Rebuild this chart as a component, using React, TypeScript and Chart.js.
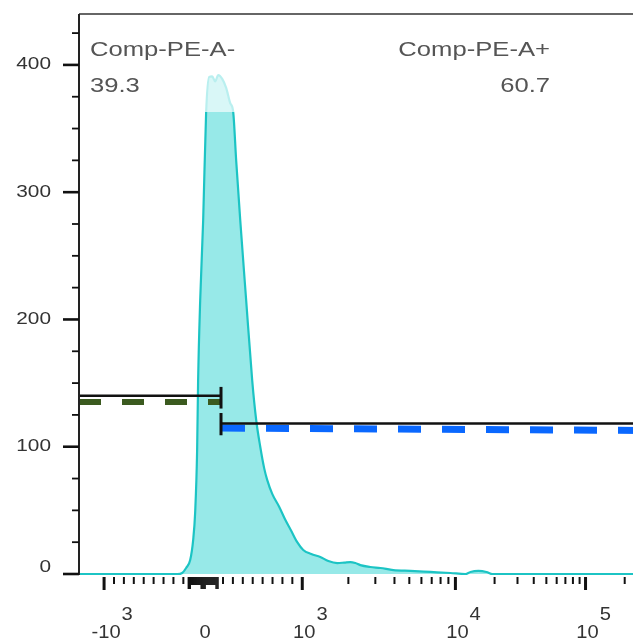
import React, { useEffect, useRef } from 'react';
import { Chart, registerables } from 'chart.js';

Chart.register(...registerables);

// ---- data (fluorescence values on the biexponential Comp-PE-A axis) ----
const histValues = [
  -1253, -260, -212, -172, -131, -101, -81, -61, -51, -30, 0, 30, 61, 91, 121, 152, 192, 232, 273, 303,
  333, 374, 434, 495, 535, 576, 616, 646, 697, 768, 830, 884, 949, 1015, 1145, 1311, 1479, 1693, 1882,
  2060, 2221, 2394, 2782, 3235, 3934, 5080, 6866, 9275, 11936, 13044, 15030, 17320, 19260, 262144,
];
const histCounts = [
  0, 0, 0.8, 4.7, 11, 26.7, 48, 97, 152, 215, 278, 363, 390.6, 391, 387, 392, 389, 382, 370, 363,
  325, 278, 215, 152, 121, 100, 83, 74, 63, 52.7, 42.4, 34.6, 25, 18.9, 15.7, 13.4, 10.2, 8.6, 9,
  9.4, 8.6, 7, 5.5, 4.7, 3.1, 2.4, 1.6, 0.8, 0, 1.6, 2.4, 1.6, 0, 0,
];

const xMinValue = -1253;
const xMaxValue = 262144;
const yMaxValue = 440;
const clipLevel = 363;

const gateBoundary = 180;
const leftGateLevel = 140;
const leftDashLevel = 135.2;
const leftMarkerRange = [130, 147];
const rightGateLevel = 118.3;
const rightDashLevels = [114.7, 112.8];
const rightMarkerRange = [109, 126.5];

const gateNames = ['Comp-PE-A-', 'Comp-PE-A+'];
const gatePercents = ['39.3', '60.7'];

const yMajorTicks = [0, 100, 200, 300, 400];
const yMinorTicks = [25, 50, 75, 125, 150, 175, 225, 250, 275, 325, 350, 375, 425];
const xMajorTicks = [-1000, 1000, 10000, 100000];
const xMinorTicks = [
  -900, -800, -700, -600, -500, -400, -300, -200,
  200, 300, 400, 500, 600, 700, 800, 900,
  2000, 3000, 4000, 5000, 6000, 7000, 8000, 9000,
  20000, 30000, 40000, 50000, 60000, 70000, 80000, 90000, 200000,
];
const xZeroTicks = [-150, -140, -130, -120, -110, -100, -90, -80, -70, -60, -50, -40, -30, -20, -10, 0,
  10, 20, 30, 40, 50, 60, 70, 80, 90, 100, 110, 120, 130, 140, 150];
const xLabelValues = [-1000, 0, 1000, 10000, 100000];
const xLabelBases = ['-10', '0', '10', '10', '10'];
const xLabelExps = ['3', '', '3', '4', '5'];

// biexponential-like display transform
function T(v: number): number {
  if (v <= 1000) return 0.099 * v;
  if (v <= 10000) return 99 + 153 * (Math.log10(v) - 3);
  return 252 + 130 * (Math.log10(v) - 4);
}

const FILL = '#97e9e8';
const FILL_PALE = '#d9f7f7';
const LINE = '#1cc4c4';
const LINE_PALE = '#b9efef';
const FONT = '"Liberation Sans", Arial, Helvetica, sans-serif';

function stretchedText(ctx: CanvasRenderingContext2D, text: string, x: number, y: number,
  align: CanvasTextAlign, size: number, sx: number, color: string, baseline: CanvasTextBaseline = 'alphabetic') {
  ctx.save();
  ctx.translate(x, y);
  ctx.scale(sx, 1);
  ctx.font = `${size}px ${FONT}`;
  ctx.fillStyle = color;
  ctx.textAlign = align;
  ctx.textBaseline = baseline;
  ctx.fillText(text, 0, 0);
  ctx.restore();
}

function textWidth(ctx: CanvasRenderingContext2D, text: string, size: number, sx: number) {
  ctx.save();
  ctx.font = `${size}px ${FONT}`;
  const w = ctx.measureText(text).width * sx;
  ctx.restore();
  return w;
}

function splitGradient(chart: any, top: string, bottom: string) {
  const { chartArea, scales } = chart;
  if (!chartArea) return bottom;
  const yCut = scales.y.getPixelForValue(clipLevel);
  const f = Math.min(1, Math.max(0, (yCut - chartArea.top) / (chartArea.bottom - chartArea.top)));
  const g = chart.ctx.createLinearGradient(0, chartArea.top, 0, chartArea.bottom);
  g.addColorStop(0, top);
  g.addColorStop(f, top);
  g.addColorStop(Math.min(1, f + 0.0001), bottom);
  g.addColorStop(1, bottom);
  return g;
}

const flowAxes = {
  id: 'flowAxes',
  afterDraw(chart: any) {
    const ctx: CanvasRenderingContext2D = chart.ctx;
    const { left, right, top, bottom } = chart.chartArea;
    const xs = chart.scales.x;
    const ys = chart.scales.y;
    ctx.save();
    // frame: top and left
    ctx.strokeStyle = '#333';
    ctx.lineWidth = 1.6;
    ctx.beginPath();
    ctx.moveTo(left, top);
    ctx.lineTo(right, top);
    ctx.stroke();
    ctx.strokeStyle = '#222';
    ctx.lineWidth = 2;
    ctx.beginPath();
    ctx.moveTo(left, top);
    ctx.lineTo(left, bottom + 1);
    ctx.stroke();

    // y ticks
    ctx.strokeStyle = '#111';
    yMajorTicks.forEach((v) => {
      const y = ys.getPixelForValue(v);
      ctx.lineWidth = 2.6;
      ctx.beginPath();
      ctx.moveTo(left - 16, y);
      ctx.lineTo(left, y);
      ctx.stroke();
      stretchedText(ctx, String(v), left - 28, Math.min(y, bottom - 6), 'right', 16, 1.3, '#333', 'middle');
    });
    yMinorTicks.forEach((v) => {
      const y = ys.getPixelForValue(v);
      ctx.lineWidth = 1.8;
      ctx.beginPath();
      ctx.moveTo(left - 7, y);
      ctx.lineTo(left, y);
      ctx.stroke();
    });

    // x ticks
    const t0 = bottom + 3;
    xMajorTicks.forEach((v) => {
      const x = xs.getPixelForValue(T(v));
      ctx.lineWidth = 3;
      ctx.beginPath();
      ctx.moveTo(x, t0);
      ctx.lineTo(x, t0 + 13);
      ctx.stroke();
    });
    xMinorTicks.forEach((v) => {
      const x = xs.getPixelForValue(T(v));
      if (x > right) return;
      ctx.lineWidth = 2;
      ctx.beginPath();
      ctx.moveTo(x, t0);
      ctx.lineTo(x, t0 + 7);
      ctx.stroke();
    });
    xZeroTicks.forEach((v) => {
      const x = xs.getPixelForValue(T(v));
      ctx.lineWidth = 1.4;
      ctx.beginPath();
      ctx.moveTo(x, t0);
      ctx.lineTo(x, t0 + (Math.abs(v) >= 130 || Math.abs(v) <= 20 ? 12 : 8));
      ctx.stroke();
    });

    // x labels with exponents
    xLabelValues.forEach((v, i) => {
      const x = xs.getPixelForValue(T(v)) + 2;
      const base = xLabelBases[i];
      stretchedText(ctx, base, x, bottom + 64, 'center', 17.5, 1.15, '#333');
      if (xLabelExps[i]) {
        const w = textWidth(ctx, base, 17.5, 1.15);
        stretchedText(ctx, xLabelExps[i], x + w / 2 + 1, bottom + 46, 'left', 17.5, 1.15, '#333');
      }
    });

    // gate annotations
    stretchedText(ctx, gateNames[0], left + 11, top + 42, 'left', 21, 1.22, '#555');
    stretchedText(ctx, gatePercents[0], left + 11, top + 78, 'left', 21, 1.22, '#555');
    stretchedText(ctx, gateNames[1], 550, top + 42, 'right', 21, 1.22, '#555');
    stretchedText(ctx, gatePercents[1], 550, top + 78, 'right', 21, 1.22, '#555');
    ctx.restore();
  },
};

export default function App() {
  const ref = useRef<HTMLCanvasElement>(null);
  useEffect(() => {
    if (!ref.current) return;
    const hist = histValues.map((v, i) => ({ x: T(v), y: histCounts[i] }));
    const xL = T(xMinValue);
    const xR = T(xMaxValue);
    const xG = T(gateBoundary);
    const chart = new Chart(ref.current, {
      type: 'line',
      data: {
        datasets: [
          {
            label: 'left gate',
            data: [{ x: xL, y: leftGateLevel }, { x: xG, y: leftGateLevel }],
            borderColor: '#111', borderWidth: 2.5, pointRadius: 0, order: 1, clip: false as any,
          },
          {
            label: 'left marker',
            data: [{ x: xG, y: leftMarkerRange[0] }, { x: xG, y: leftMarkerRange[1] }],
            borderColor: '#111', borderWidth: 3, pointRadius: 0, order: 1, clip: false as any,
          },
          {
            label: 'right gate',
            data: [{ x: xG, y: rightGateLevel }, { x: xR, y: rightGateLevel }],
            borderColor: '#111', borderWidth: 2.5, pointRadius: 0, order: 1, clip: false as any,
          },
          {
            label: 'right marker',
            data: [{ x: xG, y: rightMarkerRange[0] }, { x: xG, y: rightMarkerRange[1] }],
            borderColor: '#111', borderWidth: 3, pointRadius: 0, order: 1, clip: false as any,
          },
          {
            label: 'Comp-PE-A- level',
            data: [{ x: xL, y: leftDashLevel }, { x: xG, y: leftDashLevel }],
            borderColor: '#3b5a1f', borderWidth: 6, borderDash: [22, 21], pointRadius: 0, order: 2,
            borderCapStyle: 'butt', clip: false as any,
          },
          {
            label: 'Comp-PE-A+ level',
            data: [{ x: xG + 1, y: rightDashLevels[0] }, { x: xR, y: rightDashLevels[1] }],
            borderColor: '#0a68ff', borderWidth: 7, borderDash: [23, 21], pointRadius: 0, order: 2,
            borderCapStyle: 'butt', clip: false as any,
          },
          {
            label: 'Comp-PE-A',
            data: hist,
            fill: 'origin',
            backgroundColor: (c: any) => splitGradient(c.chart, FILL_PALE, FILL),
            borderColor: (c: any) => splitGradient(c.chart, LINE_PALE, LINE),
            borderWidth: 2.2,
            pointRadius: 0,
            cubicInterpolationMode: 'monotone',
            order: 10,
            clip: 3 as any,
          },
        ],
      },
      options: {
        animation: false,
        responsive: false,
        events: [],
        layout: { padding: { left: 79, top: 14, bottom: 70, right: 0 } },
        plugins: { legend: { display: false }, tooltip: { enabled: false } },
        scales: {
          x: { type: 'linear', min: T(xMinValue), max: T(xMaxValue), display: false },
          y: { type: 'linear', min: 0, max: yMaxValue, display: false },
        },
      },
      plugins: [flowAxes],
    });
    return () => chart.destroy();
  }, []);
  return (
    <div style={{ position: 'fixed', left: 0, top: 0, width: 633, height: 644, overflow: 'hidden', background: '#fff' }}>
      <canvas ref={ref} width={640} height={644} style={{ display: 'block', width: 640, height: 644 }} />
    </div>
  );
}
